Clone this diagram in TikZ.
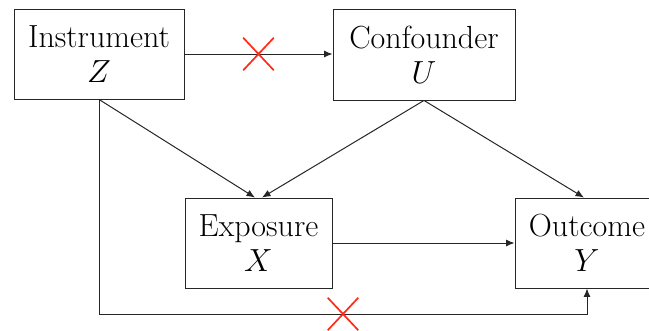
\documentclass[tikz,border=0pt]{standalone}
\usepackage{fix-cm}
\usetikzlibrary{arrows.meta,shapes.misc}
\begin{document}
\begin{tikzpicture}[x=1pt,y=-1pt,
  box/.style={draw=black!85, line width=0.9pt, rectangle, inner sep=0pt,
    align=center, font=\fontsize{32}{35}\selectfont},
  arr/.style={draw=black!85, line width=1pt, -{Latex[length=8.5pt,width=7pt]}},
  nope/.style={cross out, draw=red!85!orange!90!white, line width=1.7pt,
    minimum width=29pt, minimum height=31pt, inner sep=0pt}]
\useasboundingbox (0,0) rectangle (649,330);
% variables of the instrumental-variable model
\node[box, minimum width=170pt, minimum height=90pt] (Z) at (99,54) {Instrument\\ $Z$};
\node[box, minimum width=182pt, minimum height=91pt] (U) at (424,54.5) {Confounder\\ $U$};
\node[box, minimum width=147pt, minimum height=90pt] (X) at (258.5,243) {Exposure\\ $X$};
\node[box, minimum width=144pt, minimum height=90pt] (Y) at (587,243) {Outcome\\ $Y$};
\coordinate (bot) at (0,314);
% causal paths
\draw[arr] (Z.east |- 0,54) -- node[nope] (c1) {} (U.west |- 0,54);
\draw[arr] (Z.south) -- ([xshift=-3.5pt]X.north);
\draw[arr] (U.south) -- ([xshift=3.5pt]X.north);
\draw[arr] (U.south) -- ([xshift=-3pt]Y.north);
\draw[arr] (X.east) -- (Y.west |- X.east);
\draw[arr] (Z.south) |- node[nope, pos=0.75] (c2) {} (bot -| Y.south) -- (Y.south);
\end{tikzpicture}
\end{document}
